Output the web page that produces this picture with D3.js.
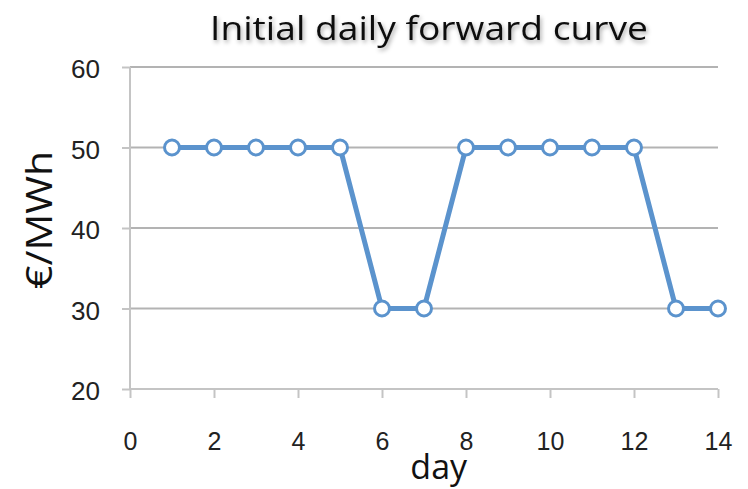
<!DOCTYPE html>
<html>
<head>
<meta charset="utf-8">
<script src="https://cdn.jsdelivr.net/npm/d3@7"></script>
<style>
  body { margin: 0; background: #fff; }
  svg { display: block; font-family: "Open Sans", "Noto Sans", sans-serif; }
  .grid line { stroke: #b3b3b3; stroke-width: 2; }
  .tick text { fill: #222; }
</style>
</head>
<body>
<div id="chart"></div>
<script>
// Initial daily forward curve — price per day
const days = [1, 2, 3, 4, 5, 6, 7, 8, 9, 10, 11, 12, 13, 14];
const prices = [50, 50, 50, 50, 50, 30, 30, 50, 50, 50, 50, 50, 30, 30];
const xTicks = [0, 2, 4, 6, 8, 10, 12, 14];
const yTicks = [20, 30, 40, 50, 60];

const W = 748, H = 489;
const M = { top: 67, right: 30, bottom: 100, left: 130 };
const innerW = W - M.left - M.right;
const innerH = H - M.top - M.bottom;
const BLUE = "#5b93cd";
const AXIS = "#c4c4c4";

const svg = d3.select("#chart").append("svg").attr("width", W).attr("height", H);

const defs = svg.append("defs");
const sh = defs.append("filter").attr("id", "shadow").attr("x", "-10%").attr("y", "-20%")
  .attr("width", "120%").attr("height", "160%");
sh.append("feDropShadow").attr("dx", 1.5).attr("dy", 2.5).attr("stdDeviation", 2)
  .attr("flood-color", "#000").attr("flood-opacity", 0.35);

const g = svg.append("g").attr("transform", `translate(${M.left},${M.top})`);

const x = d3.scaleLinear().domain([0, 14]).range([0, innerW]);
const y = d3.scaleLinear().domain([20, 60]).range([innerH, 0]);

// horizontal gridlines
g.append("g").attr("class", "grid")
  .selectAll("line").data(yTicks.filter((d) => d > 20)).join("line")
  .attr("x1", 0).attr("x2", innerW)
  .attr("y1", (d) => y(d)).attr("y2", (d) => y(d));

// y axis
const yAxis = g.append("g")
  .call(d3.axisLeft(y).tickValues(yTicks).tickSize(8).tickPadding(22));
yAxis.select(".domain").attr("stroke", AXIS).attr("stroke-width", 2)
  .attr("d", `M0,${y(60)}V${innerH}`);
yAxis.selectAll(".tick line").attr("stroke", AXIS).attr("stroke-width", 2);
yAxis.selectAll(".tick text").style("font-size", "25px").attr("dy", "0.42em")
  .attr("textLength", 29).attr("lengthAdjust", "spacingAndGlyphs");

// x axis
const xAxis = g.append("g").attr("transform", `translate(0,${innerH})`)
  .call(d3.axisBottom(x).tickValues(xTicks).tickSize(9).tickPadding(34));
xAxis.select(".domain").attr("stroke", AXIS).attr("stroke-width", 2)
  .attr("d", `M0,0H${innerW}`);
xAxis.selectAll(".tick line").attr("stroke", AXIS).attr("stroke-width", 2);
xAxis.selectAll(".tick text").style("font-size", "25px");

// series line
const pts = days.map((d, i) => ({ day: d, price: prices[i] }));
g.append("path").datum(pts)
  .attr("fill", "none").attr("stroke", BLUE).attr("stroke-width", 5)
  .attr("stroke-linejoin", "round")
  .attr("d", d3.line().x((d) => x(d.day)).y((d) => y(d.price)));

g.append("g").selectAll("circle").data(pts).join("circle")
  .attr("cx", (d) => x(d.day)).attr("cy", (d) => y(d.price))
  .attr("r", 7.5).attr("fill", "#fff").attr("stroke", BLUE).attr("stroke-width", 3);

// title
svg.append("text").attr("x", 429).attr("y", 40).attr("text-anchor", "middle")
  .attr("filter", "url(#shadow)")
  .style("font-size", "33px").attr("fill", "#111")
  .attr("textLength", 438).attr("lengthAdjust", "spacingAndGlyphs")
  .text("Initial daily forward curve");

// axis titles
svg.append("text").attr("x", M.left + x(7.35)).attr("y", 479).attr("text-anchor", "middle")
  .style("font-size", "34px").attr("fill", "#111").text("day");

svg.append("text").attr("transform", `translate(52,${M.top + y(41)}) rotate(-90)`)
  .attr("text-anchor", "middle").style("font-size", "37px").attr("fill", "#111")
  .attr("textLength", 138).attr("lengthAdjust", "spacingAndGlyphs")
  .text("€/MWh");
</script>
</body>
</html>
